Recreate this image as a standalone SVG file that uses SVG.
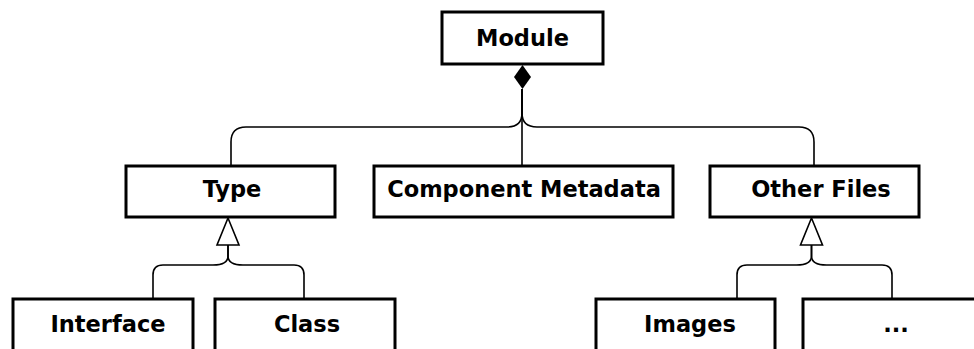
<svg xmlns="http://www.w3.org/2000/svg" width="974" height="349" viewBox="0 0 974 349">
<style>
.box{fill:#fff;stroke:#000;stroke-width:3}
.lbl{font-family:"DejaVu Sans",sans-serif;font-weight:bold;font-size:22.5px;fill:#000;text-anchor:middle}
.con{fill:none;stroke:#000;stroke-width:1.6}
.tri{fill:#fff;stroke:#000;stroke-width:1.6}
</style>
<rect width="974" height="349" fill="#fff"/>
<g id="connectors">
<path class="con" d="M522,89 V166"/>
<path class="con" d="M522,89 V113 Q522,127 507,127 H246 Q231,127 231,142 V166"/>
<path class="con" d="M522,89 V113 Q522,127 537,127 H799 Q814,127 814,142 V166"/>
<polygon points="522.5,65 531,77 522.5,89 514,77" fill="#000"/>
<path class="con" d="M228,245 V256 C228,263 222,265 213,265 H163 Q153,265 153,275 V300"/>
<path class="con" d="M228,245 V256 C228,263 234,265 243,265 H294 Q304,265 304,275 V300"/>
<polygon class="tri" points="228,218 217,245 239,245"/>
<path class="con" d="M811.5,245 V256 C811.5,263 805.5,265 796.5,265 H747 Q737,265 737,275 V300"/>
<path class="con" d="M811.5,245 V256 C811.5,263 817.5,265 826.5,265 H882 Q892,265 892,275 V300"/>
<polygon class="tri" points="811.5,218 800.5,245 822.5,245"/>
</g>
<g id="module"><rect class="box" x="442" y="12" width="161" height="52"/><text class="lbl" x="522.5" y="46">Module</text></g>
<g id="type"><rect class="box" x="126" y="166" width="209" height="51"/><text class="lbl" x="232" y="197">Type</text></g>
<g id="component-metadata"><rect class="box" x="374" y="166" width="299" height="51"/><text class="lbl" x="524" y="197">Component Metadata</text></g>
<g id="other-files"><rect class="box" x="710" y="166" width="209" height="51"/><text class="lbl" x="821" y="197">Other Files</text></g>
<g id="interface"><rect class="box" x="13" y="299" width="180" height="62"/><text class="lbl" x="108" y="332">Interface</text></g>
<g id="class"><rect class="box" x="215" y="299" width="180" height="62"/><text class="lbl" x="307" y="332">Class</text></g>
<g id="images"><rect class="box" x="596" y="299" width="179" height="62"/><text class="lbl" x="690" y="332">Images</text></g>
<g id="more"><rect class="box" x="803" y="299" width="180" height="62"/><text class="lbl" x="896" y="332">...</text></g>
</svg>
